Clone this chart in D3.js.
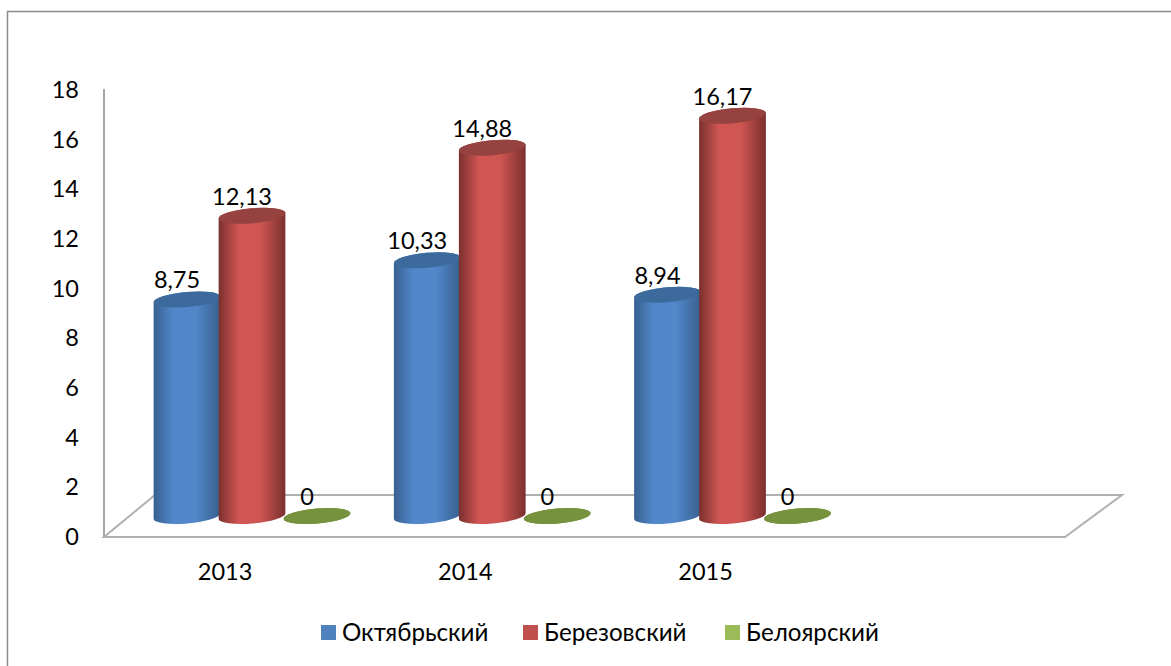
<!DOCTYPE html>
<html>
<head>
<meta charset="utf-8">
<script src="https://cdn.jsdelivr.net/npm/d3@7"></script>
<style>
  html, body { margin: 0; padding: 0; background: #fff; overflow: hidden; }
  text { font-family: Lato, "Open Sans", sans-serif; fill: #000; }
</style>
</head>
<body>
<script>
var years = ["2013", "2014", "2015", ""];
var seriesNames = ["Октябрьский", "Березовский", "Белоярский"];
var oktyabrsky = [8.75, 10.33, 8.94];
var berezovsky = [12.13, 14.88, 16.17];
var beloyarsky = [0, 0, 0];
var yTicks = [0, 2, 4, 6, 8, 10, 12, 14, 16, 18];

var allSeries = [oktyabrsky, berezovsky, beloyarsky];
var colors = ["#4f81bd", "#c0504d", "#9bbb59"];
var edge = ["#37608f", "#7a302e", "#76923c"];
var mid = ["#5288cb", "#cf5653", "#76923c"];
var top_ = ["#3c6a9c", "#954240", "#76923c"];

var width = 1171, height = 666;
var fontSize = "23.5px";

var svg = d3.select("body").append("svg")
    .attr("width", width)
    .attr("height", height);

// frame, open to the right and bottom of the picture
svg.append("path")
    .attr("d", "M7.5,666V11.5H1171")
    .attr("fill", "none")
    .attr("stroke", "#8c8c8c")
    .attr("stroke-width", 1.5);

var x = d3.scaleBand().domain(years).range([104, 1065]);
var xSeries = d3.scaleBand().domain(d3.range(3)).range([0, 195]);
var yAxisScale = d3.scaleLinear().domain([0, 18]).range([537, 90]);
var yBar = d3.scaleLinear().domain([0, 18]).range([516, 70.5]);

// floor of the 3d box
svg.append("path")
    .attr("d", "M104,537L155,495H1122L1065,537Z")
    .attr("fill", "none")
    .attr("stroke", "#b0b0b0")
    .attr("stroke-width", 2);

svg.append("line")
    .attr("x1", 104).attr("x2", 104)
    .attr("y1", 89).attr("y2", 537)
    .attr("stroke", "#a6a6a6")
    .attr("stroke-width", 2);

var yAxis = svg.append("g")
    .attr("transform", "translate(104,0)")
    .call(d3.axisLeft(yAxisScale).tickValues(yTicks).tickSize(0).tickPadding(25));
yAxis.select(".domain").remove();
yAxis.selectAll("text").style("font-size", fontSize).style("font-family", null);

var xAxis = svg.append("g")
    .attr("transform", "translate(1,537)")
    .call(d3.axisBottom(x).tickSize(0).tickPadding(26));
xAxis.select(".domain").remove();
xAxis.selectAll("text").style("font-size", fontSize).style("font-family", null);

var defs = svg.append("defs");
colors.forEach(function(c, i) {
  var g = defs.append("linearGradient").attr("id", "cyl" + i);
  g.append("stop").attr("offset", "0%").attr("stop-color", edge[i]);
  g.append("stop").attr("offset", "30%").attr("stop-color", mid[i]);
  g.append("stop").attr("offset", "62%").attr("stop-color", mid[i]);
  g.append("stop").attr("offset", "100%").attr("stop-color", edge[i]);
});

var rx = 33.5, ry = 7.5, tilt = 5;
var dx = rx * Math.cos(tilt * Math.PI / 180);
var dy = rx * Math.sin(tilt * Math.PI / 180);

function cylinderBody(cx, yTop, yBase) {
  return "M" + (cx - dx) + "," + (yTop + dy)
    + "L" + (cx - dx) + "," + (yBase + dy)
    + "A" + rx + "," + ry + " " + (-tilt) + " 0 0 " + (cx + dx) + "," + (yBase - dy)
    + "L" + (cx + dx) + "," + (yTop - dy)
    + "A" + rx + "," + ry + " " + (-tilt) + " 0 0 " + (cx - dx) + "," + (yTop + dy) + "Z";
}

allSeries.forEach(function(values, s) {
  var group = svg.append("g");
  var cxOf = function(i) { return x(years[i]) + 50.5 + xSeries(s) + xSeries.bandwidth() / 2; };

  group.selectAll(".body")
    .data(values)
    .enter()
    .append("path")
    .attr("d", function(d, i) { return cylinderBody(cxOf(i), yBar(d), yBar(0)); })
    .attr("fill", "url(#cyl" + s + ")");

  group.selectAll(".cap")
    .data(values)
    .enter()
    .append("ellipse")
    .attr("rx", rx)
    .attr("ry", ry)
    .attr("transform", function(d, i) {
      return "translate(" + cxOf(i) + "," + yBar(d) + ") rotate(" + (-tilt) + ")";
    })
    .attr("fill", top_[s]);

  group.selectAll(".label")
    .data(values)
    .enter()
    .append("text")
    .attr("x", function(d, i) { return cxOf(i) - 10; })
    .attr("y", function(d) { return yBar(d) - 11; })
    .attr("text-anchor", "middle")
    .style("font-size", fontSize)
    .text(function(d) { return String(d).replace(".", ","); });
});

// legend
var legendX = [321, 523, 725];
var legend = svg.selectAll(".legend")
    .data(seriesNames)
    .enter()
    .append("g")
    .attr("transform", function(d, i) { return "translate(" + legendX[i] + ",625)"; });

legend.append("rect")
    .attr("x", 0).attr("y", 0)
    .attr("width", 15).attr("height", 15)
    .attr("fill", function(d, i) { return colors[i]; });

legend.append("text")
    .attr("x", 21)
    .attr("y", 16)
    .style("font-size", "24.2px")
    .text(function(d) { return d; });
</script>
</body>
</html>
